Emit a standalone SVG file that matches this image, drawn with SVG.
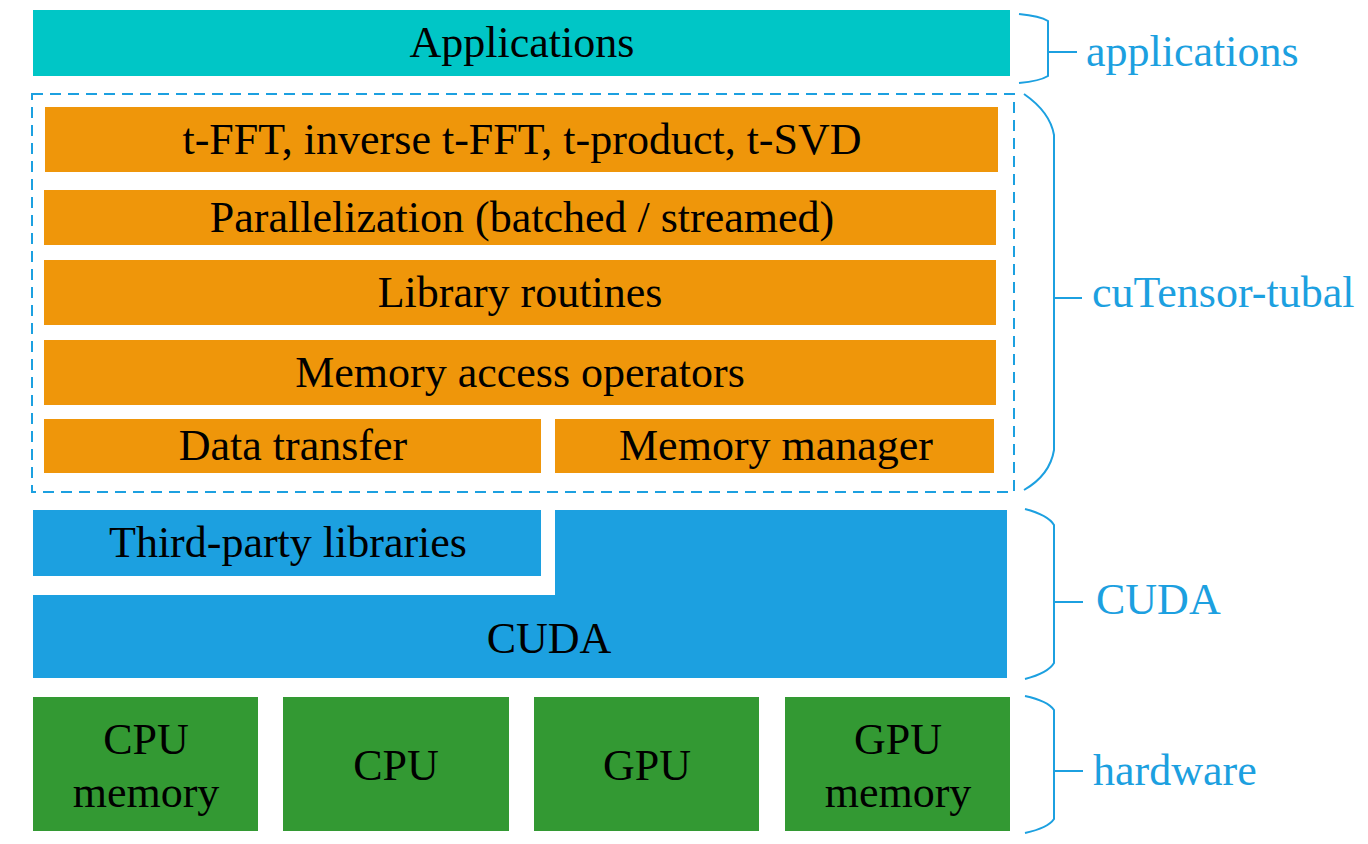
<svg xmlns="http://www.w3.org/2000/svg" width="1368" height="844" viewBox="0 0 1368 844">
<style>
text{font-family:'Liberation Serif','Times New Roman',Times,serif;font-size:44px}
.t{fill:#000;text-anchor:middle}
.l{fill:#1CA0E0}
.or{fill:#EF960A}
.bl{fill:#1CA0E0}
.gr{fill:#339933}
.br{fill:none;stroke:#1CA0E0;stroke-width:2}
</style>
<rect width="1368" height="844" fill="#fff"/>
<g id="applications"><rect x="33" y="10" width="977" height="66" fill="#00C6C6"/><text class="t" x="522" y="57" font-family="Liberation Serif">Applications</text></g>
<g id="cutensor-box"><rect x="32" y="94" width="982" height="398" fill="none" stroke="#1CA0E0" stroke-width="2" stroke-dasharray="11,7"/></g>
<g id="tfft"><rect class="or" x="45" y="107" width="953" height="65"/><text class="t" x="522" y="154" font-family="Liberation Serif">t-FFT, inverse t-FFT, t-product, t-SVD</text></g>
<g id="parallel"><rect class="or" x="44" y="190" width="952" height="55"/><text class="t" x="522" y="232" font-family="Liberation Serif">Parallelization (batched / streamed)</text></g>
<g id="library"><rect class="or" x="44" y="260" width="952" height="65"/><text class="t" x="520" y="307" font-family="Liberation Serif">Library routines</text></g>
<g id="memaccess"><rect class="or" x="44" y="340" width="952" height="65"/><text class="t" x="520" y="387" font-family="Liberation Serif">Memory access operators</text></g>
<g id="datatransfer"><rect class="or" x="44" y="419" width="497" height="54"/><text class="t" x="293" y="460" font-family="Liberation Serif">Data transfer</text></g>
<g id="memmanager"><rect class="or" x="555" y="419" width="439" height="54"/><text class="t" x="776" y="460" font-family="Liberation Serif">Memory manager</text></g>
<g id="thirdparty"><rect class="bl" x="33" y="510" width="508" height="66"/><text class="t" x="288" y="557" font-family="Liberation Serif">Third-party libraries</text></g>
<g id="cuda"><path class="bl" d="M555 510H1007V678H33V595H555Z"/><text class="t" x="549" y="653" font-family="Liberation Serif">CUDA</text></g>
<g id="cpumem"><rect class="gr" x="33" y="697" width="225" height="134"/><text class="t" x="146" y="754" font-family="Liberation Serif">CPU</text><text class="t" x="146" y="807" font-family="Liberation Serif">memory</text></g>
<g id="cpu"><rect class="gr" x="283" y="697" width="226" height="134"/><text class="t" x="396" y="780" font-family="Liberation Serif">CPU</text></g>
<g id="gpu"><rect class="gr" x="534" y="697" width="225" height="134"/><text class="t" x="647" y="780" font-family="Liberation Serif">GPU</text></g>
<g id="gpumem"><rect class="gr" x="785" y="697" width="225" height="134"/><text class="t" x="898" y="754" font-family="Liberation Serif">GPU</text><text class="t" x="898" y="807" font-family="Liberation Serif">memory</text></g>
<g id="connectors">
<path class="br" d="M1019 14Q1040 16 1048 21V76Q1040 81 1019 83M1048 52H1077"/>
<path class="br" d="M1024 94Q1050 112 1054 135V450Q1050 475 1024 490M1054 298H1082"/>
<path class="br" d="M1025 509Q1048 515 1054 525V663Q1048 673 1025 679M1054 602H1083"/>
<path class="br" d="M1025 696Q1048 701 1054 710V819Q1048 828 1025 833M1054 771H1083"/>
</g>
<g id="labels">
<text class="l" x="1086" y="66" font-family="Liberation Serif">applications</text>
<text class="l" x="1092" y="307" font-family="Liberation Serif">cuTensor-tubal</text>
<text class="l" x="1096" y="614" font-family="Liberation Serif">CUDA</text>
<text class="l" x="1093" y="785" font-family="Liberation Serif">hardware</text>
</g>
</svg>
